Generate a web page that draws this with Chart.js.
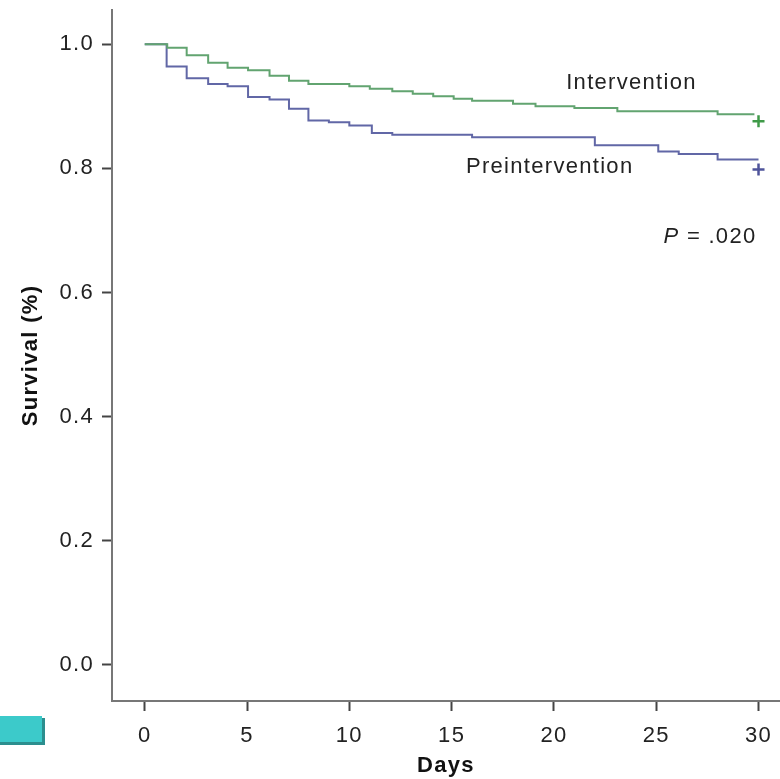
<!DOCTYPE html>
<html><head><meta charset="utf-8">
<script src="https://cdn.jsdelivr.net/npm/chart.js@4/dist/chart.umd.min.js"></script>
<style>html,body{margin:0;padding:0;background:#fff;}#wrap{position:relative;width:780px;height:779px;}</style>
</head><body><div id="wrap"><canvas id="c" width="780" height="779"></canvas></div>
<script>
// Intervention (green) Kaplan-Meier steps
const interventionDays = [0, 1.1, 2.05, 3.1, 4.05, 5.05, 6.1, 7.05, 8.0, 10.0, 11.0, 12.1, 13.1, 14.1, 15.1, 16.0, 18.0, 19.1, 21.0, 23.1, 28.0, 29.8];
const interventionSurvival = [1.0, 0.994, 0.982, 0.970, 0.962, 0.958, 0.949, 0.941, 0.936, 0.932, 0.928, 0.924, 0.920, 0.916, 0.912, 0.909, 0.904, 0.900, 0.897, 0.892, 0.887, 0.887];
// Preintervention (blue) Kaplan-Meier steps
const preDays = [0, 1.07, 2.05, 3.1, 4.05, 5.05, 6.1, 7.05, 8.0, 9.0, 10.0, 11.1, 12.1, 16.0, 22.0, 25.1, 26.1, 28.0, 30.0];
const preSurvival = [1.0, 0.964, 0.945, 0.936, 0.932, 0.915, 0.911, 0.896, 0.877, 0.874, 0.869, 0.857, 0.854, 0.850, 0.837, 0.827, 0.823, 0.814, 0.814];
// Censor marks (+)
const censorDays = [30, 30];
const censorSurvival = [0.876, 0.798];
// Ticks
const xTickValues = [0, 5, 10, 15, 20, 25, 30];
const yTickValues = [0.0, 0.2, 0.4, 0.6, 0.8, 1.0];
const seriesNames = ['Intervention', 'Preintervention'];

const GREEN = '#62a470';
const BLUE = '#6167a6';
const FONT = '"Liberation Sans", Arial, sans-serif';

const toXY = (xs, ys) => xs.map((x, i) => ({x: x, y: ys[i]}));

const annot = {
  id: 'annot',
  beforeDraw(chart) {
    const ctx = chart.ctx;
    ctx.letterSpacing = '1.3px';
    ctx.save();
    ctx.fillStyle = '#2c8e8e';
    ctx.fillRect(0, 718, 45, 27);
    ctx.fillStyle = '#3ccaca';
    ctx.fillRect(0, 716, 42, 26);
    ctx.restore();
  },
  afterDraw(chart) {
    const ctx = chart.ctx, xs = chart.scales.x, ys = chart.scales.y;
    ctx.save();
    ctx.letterSpacing = '1.3px';
    ctx.fillStyle = '#222';
    ctx.textBaseline = 'middle';
    ctx.font = '22px ' + FONT;
    ctx.textAlign = 'left';
    ctx.fillText(seriesNames[0], xs.getPixelForValue(20.6), ys.getPixelForValue(0.937));
    ctx.fillText(seriesNames[1], xs.getPixelForValue(15.7), ys.getPixelForValue(0.802));
    // P value
    const px = xs.getPixelForValue(29.9), py = ys.getPixelForValue(0.690);
    ctx.textAlign = 'right';
    const rest = ' = .020';
    ctx.fillText(rest, px, py);
    const w = ctx.measureText(rest).width;
    ctx.font = 'italic 22px ' + FONT;
    ctx.fillText('P', px - w, py);
    ctx.restore();
  }
};

new Chart(document.getElementById('c'), {
  type: 'scatter',
  data: {
    datasets: [
      {label: seriesNames[0], data: toXY(interventionDays, interventionSurvival), showLine: true, stepped: 'before', borderColor: GREEN, borderWidth: 2, pointRadius: 0, fill: false},
      {label: seriesNames[1], data: toXY(preDays, preSurvival), showLine: true, stepped: 'before', borderColor: BLUE, borderWidth: 2, pointRadius: 0, fill: false},
      {label: 'censored', data: toXY(censorDays, censorSurvival), showLine: false, pointStyle: 'cross', pointRadius: 6, pointBorderWidth: 2.5, borderColor: ['#3f9a48', '#4f549b'], backgroundColor: ['#3f9a48', '#4f549b']}
    ]
  },
  options: {
    responsive: false,
    animation: false,
    devicePixelRatio: 1,
    layout: {autoPadding: false, padding: {top: 10, right: 0, left: 0, bottom: 0}},
    plugins: {legend: {display: false}, tooltip: {enabled: false}},
    scales: {
      x: {
        type: 'linear', min: -1.6, max: 31.05,
        afterBuildTicks: s => { s.ticks = xTickValues.map(v => ({value: v})); },
        afterFit: s => { s.height = 78; s.paddingLeft = 0; s.paddingRight = 0; },
        ticks: {autoSkip: false, maxRotation: 0, padding: 12, color: '#222', font: {family: FONT, size: 22}, callback: v => String(v)},
        grid: {display: true, drawOnChartArea: false, drawTicks: true, tickLength: 10, tickWidth: 2, tickColor: '#444'},
        border: {display: true, color: '#777', width: 2},
        title: {display: true, text: 'Days', color: '#111', font: {family: FONT, size: 22, weight: 'bold'}, padding: {top: 0, bottom: 0}}
      },
      y: {
        type: 'linear', min: -0.058, max: 1.055,
        afterBuildTicks: s => { s.ticks = yTickValues.map(v => ({value: v})); },
        afterFit: s => { s.width = 112; s.paddingTop = 0; s.paddingBottom = 0; },
        ticks: {autoSkip: false, padding: 8, color: '#222', font: {family: FONT, size: 22}, callback: v => Number(v).toFixed(1)},
        grid: {display: true, drawOnChartArea: false, drawTicks: true, tickLength: 10, tickWidth: 2, tickColor: '#444'},
        border: {display: true, color: '#777', width: 2},
        title: {display: true, text: 'Survival (%)', color: '#111', font: {family: FONT, size: 22, weight: 'bold'}, padding: {top: 18, bottom: 0}}
      }
    }
  },
  plugins: [annot]
});
</script></body></html>
